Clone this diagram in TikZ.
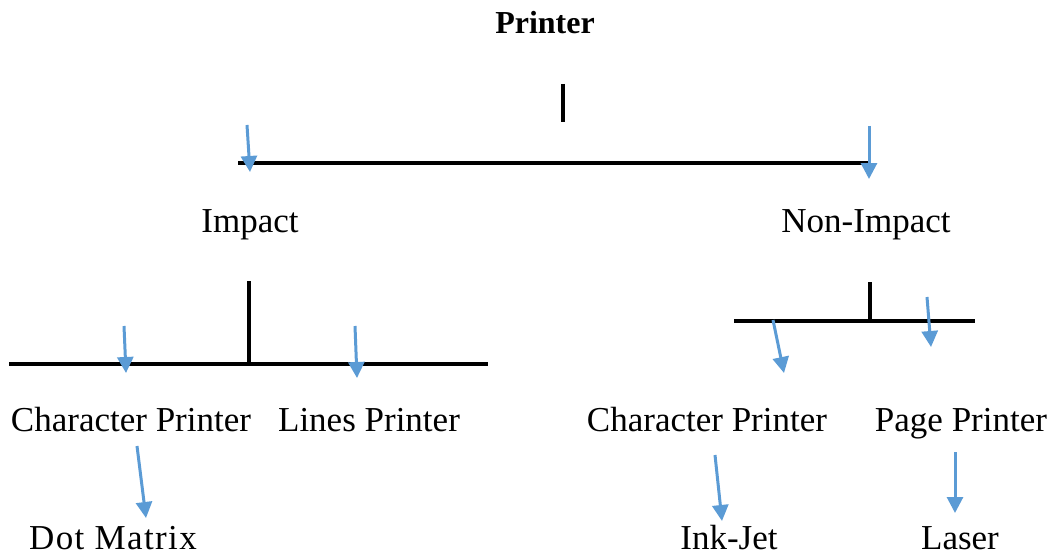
\documentclass[tikz,border=0pt]{standalone}
\usepackage{fontspec}
\setmainfont{Liberation Serif}
\usetikzlibrary{arrows.meta}
\definecolor{arrowblue}{HTML}{5B9BD5}
\tikzset{
  lbl/.style={anchor=base, inner sep=0pt, font=\fontsize{35}{42}\selectfont},
  ttl/.style={anchor=base, inner sep=0pt, font=\fontsize{32}{38}\selectfont\bfseries},
  bar/.style={draw=black, line width=3.6pt},
  pointer/.style={draw=arrowblue, line width=3pt, -{Triangle[width=16pt,length=16pt]}}
}
\begin{document}
\begin{tikzpicture}[x=1pt,y=-1pt]
\useasboundingbox (0,0) rectangle (1052,559);
% texts
\node[ttl] (printer) at (545,34) {Printer};
\node[lbl] (impact) at (250,232) {Impact};
\node[lbl] (nonimpact) at (866,232) {Non-Impact};
\node[lbl] (charL) at (131,431) {Character Printer};
\node[lbl] (lines) at (369,431) {Lines Printer};
\node[lbl] (charR) at (707,431) {Character Printer};
\node[lbl] (page) at (961,431) {Page Printer};
\node[lbl] (dot) at (113,549) {\addfontfeatures{LetterSpace=4}Dot Matrix};
\node[lbl] (ink) at (729,549) {Ink-Jet};
\node[lbl] (laser) at (960,549) {Laser};
% coordinates of bracket lines
\coordinate (p1) at (563,84);
\coordinate (p2) at (563,122);
\coordinate (h1a) at (238,163);
\coordinate (h1b) at (871,163);
\coordinate (i1) at (249,281);
\coordinate (i2) at (249,364);
\coordinate (h2a) at (9,364);
\coordinate (h2b) at (488,364);
\coordinate (n1) at (870,282);
\coordinate (n2) at (870,321);
\coordinate (h3a) at (734,321);
\coordinate (h3b) at (975,321);
\draw[bar] (p1) -- (p2);
\draw[bar] (h1a) -- (h1b);
\draw[bar] (i1) -- (i2);
\draw[bar] (h2a) -- (h2b);
\draw[bar] (n1) -- (n2);
\draw[bar] (h3a) -- (h3b);
% arrow coordinates
\coordinate (a1s) at (247,125);
\coordinate (a1e) at (250,172);
\coordinate (a2s) at (869,126);
\coordinate (a2e) at (869,179);
\coordinate (a3s) at (124,326);
\coordinate (a3e) at (126,373);
\coordinate (a4s) at (355,326);
\coordinate (a4e) at (357,378);
\coordinate (a5s) at (773,320);
\coordinate (a5e) at (784,373);
\coordinate (a6s) at (927,297);
\coordinate (a6e) at (931,347);
\coordinate (a7s) at (137,446);
\coordinate (a7e) at (146,518);
\coordinate (a8s) at (715,455);
\coordinate (a8e) at (722,521);
\coordinate (a9s) at (955,452);
\coordinate (a9e) at (955,513);
\foreach \k in {1,...,9} {\draw[pointer] (a\k s) -- (a\k e);}
\end{tikzpicture}
\end{document}
